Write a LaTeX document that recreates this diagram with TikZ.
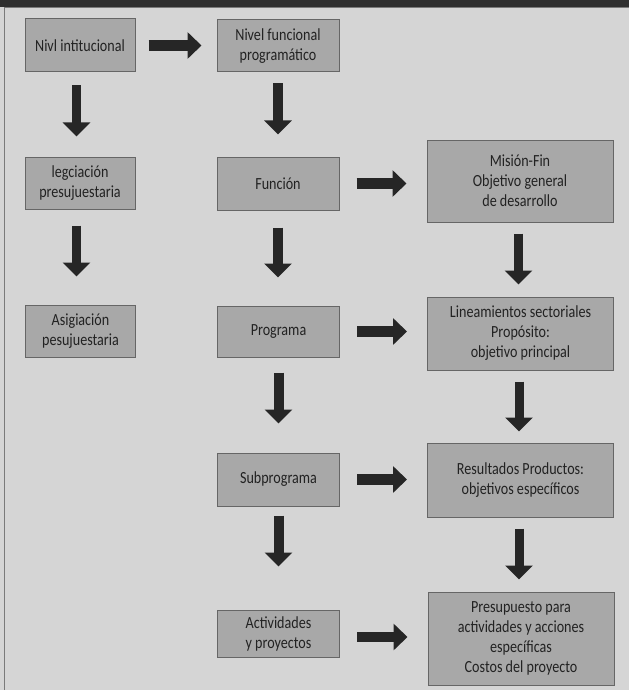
\documentclass[tikz,border=0pt]{standalone}
\usepackage{fontspec}
\setmainfont{Carlito}[FakeStretch=0.83]
\usetikzlibrary{arrows.meta}
\definecolor{bgc}{HTML}{D5D5D5}
\definecolor{boxc}{HTML}{A8A8A8}
\definecolor{boxline}{HTML}{666666}
\definecolor{arrc}{HTML}{262626}
\definecolor{txtc}{HTML}{222222}
\definecolor{stripc}{HTML}{2F2F2F}
\definecolor{framec}{HTML}{7A7A7A}
\begin{document}
\begin{tikzpicture}[x=1pt,y=-1pt,
  box/.style={draw=boxline, line width=1pt, fill=boxc, text=txtc, align=center,
    inner sep=0pt, font=\fontsize{17}{20}\selectfont},
  boxA/.style={box, minimum width=110pt},
  boxB/.style={box, minimum width=122pt},
  boxC/.style={box, minimum width=186pt},
  varrow/.style={draw=arrc, line width=9pt, -{Triangle[length=14pt,width=27pt]}},
  harrow/.style={draw=arrc, line width=10.5pt, -{Triangle[length=14pt,width=26pt]}}
]
\useasboundingbox (0,0) rectangle (629,690);
\fill[bgc] (0,0) rectangle (629,690);
\fill[stripc] (0,0) rectangle (629,7);
\draw[framec, line width=1pt] (4.5,690) -- (4.5,8) -- (629,8);

% column A
\node[boxA, minimum height=53pt] (A1) at (80,45.5) {Nivl intitucional};
\node[boxA, minimum height=52pt] (A2) at (80,183) {legciación\\presujuestaria};
\node[boxA, minimum height=52pt] (A3) at (80.5,331) {Asigiación\\pesujuestaria};
% column B
\node[boxB, minimum height=52pt] (B1) at (278,46) {Nivel funcional\\programático};
\node[boxB, minimum height=53pt] (B2) at (278,183.5) {Función};
\node[boxB, minimum height=51pt] (B3) at (278.5,331.5) {Programa};
\node[boxB, minimum height=53pt] (B4) at (278.5,479.5) {Subprograma};
\node[boxB, minimum height=47pt] (B5) at (278.5,633.5) {Actividades\\y proyectos};
% column C
\node[boxC, minimum height=82pt] (C2) at (520,181) {Misión-Fin\\Objetivo general\\de desarrollo};
\node[boxC, minimum height=73pt] (C3) at (520.5,333.5) {Lineamientos sectoriales\\Propósito:\\objetivo principal};
\node[boxC, minimum height=74pt] (C4) at (520.5,480) {Resultados Productos:\\objetivos específicos};
\node[boxC, minimum height=93pt] (C5) at (521,638.5) {Presupuesto para\\actividades y acciones\\específicas\\Costos del proyecto};

% horizontal arrows
\draw[harrow, shorten <=13pt, shorten >=15pt] (A1.east) -- (A1.east -| B1.west);
\draw[harrow, shorten <=17pt, shorten >=20pt] (B2.east) -- (B2.east -| C2.west);
\draw[harrow, shorten <=17pt, shorten >=20pt] (B3.east) -- (B3.east -| C3.west);
\draw[harrow, shorten <=17pt, shorten >=20pt] (B4.east) -- (B4.east -| C4.west);
\draw[harrow, shorten <=17pt, shorten >=20pt] ([yshift=-3.5pt]B5.east) -- ([yshift=-3.5pt]B5.east -| C5.west);

% vertical arrows column A
\draw[varrow, shorten <=13pt, shorten >=20pt] ([xshift=-3.5pt]A1.south) -- ([xshift=-3.5pt]A1.south |- A2.north);
\draw[varrow, shorten <=16pt, shorten >=28pt] ([xshift=-3.5pt]A2.south) -- ([xshift=-3.5pt]A2.south |- A3.north);
% column B
\draw[varrow, line width=10pt, shorten <=11pt, shorten >=22pt] (B1.south) -- (B1.south |- B2.north);
\draw[varrow, line width=10pt, shorten <=17pt, shorten >=28pt] (B2.south) -- (B2.south |- B3.north);
\draw[varrow, line width=10pt, shorten <=15pt, shorten >=29pt] (B3.south) -- (B3.south |- B4.north);
\draw[varrow, line width=10pt, shorten <=9pt, shorten >=43pt] (B4.south) -- (B4.south |- B5.north);
% column C
\draw[varrow, shorten <=11pt, shorten >=12pt] ([xshift=-1.5pt]C2.south) -- ([xshift=-1.5pt]C2.south |- C3.north);
\draw[varrow, shorten <=11pt, shorten >=11pt] ([xshift=-1.5pt]C3.south) -- ([xshift=-1.5pt]C3.south |- C4.north);
\draw[varrow, shorten <=11pt, shorten >=12pt] ([xshift=-1.5pt]C4.south) -- ([xshift=-1.5pt]C4.south |- C5.north);
\end{tikzpicture}
\end{document}
